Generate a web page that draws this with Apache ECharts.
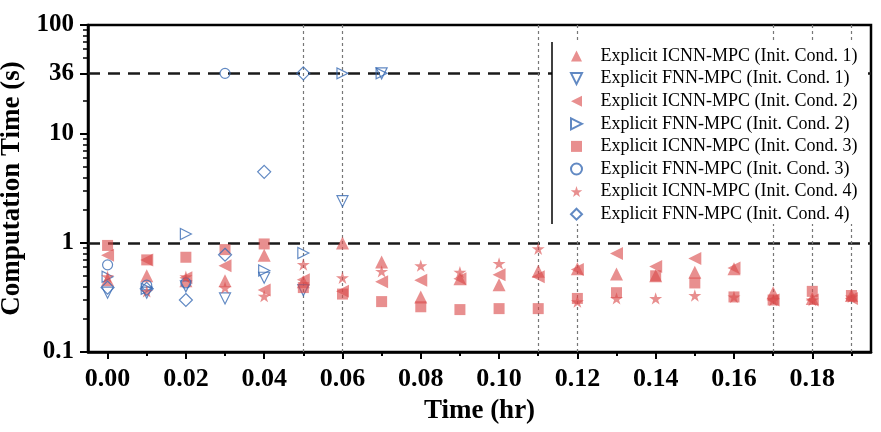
<!DOCTYPE html>
<html>
<head>
<meta charset="utf-8">
<script src="https://cdn.jsdelivr.net/npm/echarts@6.0.0/dist/echarts.min.js"></script>
<style>
html,body{margin:0;padding:0;background:#fff;}
#datas{width:881px;height:432px;}
</style>
</head>
<body>
<div id="datas"></div>
<script>
// time steps (hr)
var tAll = [0, 0.01, 0.02, 0.03, 0.04, 0.05, 0.06, 0.07, 0.08, 0.09, 0.10, 0.11, 0.12, 0.13, 0.14, 0.15, 0.16, 0.17, 0.18, 0.19];

// Explicit ICNN-MPC, computation time (s)
var icnn1 = [0.46, 0.50, 0.45, 0.45, 0.77, 0.44, 1.00, 0.67, 0.32, 0.47, 0.415, 0.55, 0.58, 0.52, 0.50, 0.54, 0.58, 0.35, 0.31, 0.33];
var icnn2 = [0.77, 0.70, 0.48, 0.62, 0.37, 0.46, 0.36, 0.44, 0.455, 0.47, 0.51, 0.49, 0.57, 0.80, 0.61, 0.72, 0.59, 0.30, 0.30, 0.31];
var icnn3 = [0.95, 0.70, 0.74, 0.87, 0.98, 0.39, 0.34, 0.29, 0.26, 0.245, 0.25, 0.25, 0.31, 0.35, 0.50, 0.43, 0.32, 0.30, 0.36, 0.33];
var icnn4 = [0.49, 0.36, 0.49, 0.39, 0.325, 0.635, 0.48, 0.55, 0.62, 0.54, 0.65, 0.885, 0.29, 0.31, 0.31, 0.33, 0.32, 0.30, 0.30, 0.32];

// Explicit FNN-MPC (stops after hitting the 36 s limit)
var fnn1T = [0, 0.01, 0.02, 0.03, 0.04, 0.05, 0.06, 0.07];
var fnn1 = [0.35, 0.35, 0.40, 0.31, 0.48, 0.37, 2.42, 36];
var fnn2T = [0, 0.01, 0.02, 0.04, 0.05, 0.06, 0.07];
var fnn2 = [0.49, 0.38, 1.21, 0.56, 0.81, 36, 36];
var fnn3T = [0, 0.01, 0.02, 0.03];
var fnn3 = [0.63, 0.41, 0.43, 36];
var fnn4T = [0, 0.01, 0.02, 0.03, 0.04, 0.05];
var fnn4 = [0.39, 0.38, 0.30, 0.78, 4.5, 36];

var names = ['Explicit ICNN-MPC (Init. Cond. 1)', 'Explicit FNN-MPC (Init. Cond. 1)',
	'Explicit ICNN-MPC (Init. Cond. 2)', 'Explicit FNN-MPC (Init. Cond. 2)',
	'Explicit ICNN-MPC (Init. Cond. 3)', 'Explicit FNN-MPC (Init. Cond. 3)',
	'Explicit ICNN-MPC (Init. Cond. 4)', 'Explicit FNN-MPC (Init. Cond. 4)'];

// axis ticks
var xMajor = [0, 0.02, 0.04, 0.06, 0.08, 0.10, 0.12, 0.14, 0.16, 0.18];
var xMinor = [0.01, 0.03, 0.05, 0.07, 0.09, 0.11, 0.13, 0.15, 0.17, 0.19];
var yMajor = [0.1, 1, 10, 36, 100];
var yMinor = [0.2, 0.3, 0.4, 0.5, 0.6, 0.7, 0.8, 0.9, 2, 3, 4, 5, 6, 7, 8, 9, 20, 50, 60, 70, 80, 90];
var refY = [36, 1];
var refX = [0.05, 0.06, 0.11, 0.12, 0.17, 0.18, 0.19];

var FONT = 'Liberation Serif';
var RED = 'rgba(218,76,76,0.78)';
var BLUE = '#3a6cb4';

// all marker shapes as paths so the legend keeps their aspect
var STAR = 'path://M50,0 L61,35 L98,35 L68,57 L79,91 L50,70 L21,91 L32,57 L2,35 L39,35 Z';
var TRI_U = 'path://M50,0 L100,100 L0,100 Z';
var TRI_L = 'path://M0,50 L100,0 L100,100 Z';
var TRI_R = 'path://M100,50 L0,0 L0,100 Z';
var TRI_D = 'path://M0,0 L100,0 L50,100 Z';
var SQUARE = 'path://M0,0 L100,0 L100,100 L0,100 Z';
var DIAMOND = 'path://M50,0 L100,50 L50,100 L0,50 Z';

function pairs(xs, ys) {
	var out = [];
	for (var i = 0; i < xs.length; i++) {
		out.push([xs[i], ys[i]]);
	}
	return out;
}

function filled(name, xs, ys, symbol, size) {
	return {
		name: name, type: 'scatter', symbol: symbol, symbolSize: size, symbolKeepAspect: true,
		itemStyle: { color: RED },
		data: pairs(xs, ys)
	};
}
function hollow(name, xs, ys, symbol, size) {
	return {
		name: name, type: 'scatter', symbol: symbol, symbolSize: size, symbolKeepAspect: true,
		itemStyle: { color: 'rgba(255,255,255,0)', borderColor: BLUE, borderWidth: 1.2 },
		data: pairs(xs, ys)
	};
}

var series = [
	filled(names[0], tAll, icnn1, TRI_U, 13),
	hollow(names[1], fnn1T, fnn1, TRI_D, 11),
	filled(names[2], tAll, icnn2, TRI_L, 13),
	hollow(names[3], fnn2T, fnn2, TRI_R, 11),
	filled(names[4], tAll, icnn3, SQUARE, 11),
	hollow(names[5], fnn3T, fnn3, 'circle', 10),
	filled(names[6], tAll, icnn4, STAR, 13),
	hollow(names[7], fnn4T, fnn4, DIAMOND, 13)
];

// reference lines live on an empty helper series
var lines = [];
refY.forEach(function (v) {
	lines.push({ yAxis: v, lineStyle: { type: [12, 8], color: '#1a1a1a', width: 2.5 } });
});
refX.forEach(function (v) {
	lines.push({ xAxis: v, lineStyle: { type: [3, 3], color: '#777', width: 1.2 } });
});
series.push({
	type: 'scatter', data: [], silent: true, z: 1,
	markLine: { silent: true, symbol: 'none', label: { show: false }, animation: false, z: 1, data: lines }
});

option = {
	animation: false,
	backgroundColor: '#fff',
	grid: {
		left: 88, right: 10, top: 25, bottom: 80, outerBoundsMode: 'none', containLabel: false,
		show: true, borderColor: '#000', borderWidth: 2.5, backgroundColor: 'transparent'
	},
	legend: {
		orient: 'vertical', left: 570, top: 47, padding: 0, z: 20,
		itemWidth: 38, itemHeight: 11, itemGap: 4.6,
		data: names,
		textStyle: { fontFamily: FONT, fontSize: 18, lineHeight: 18, color: '#000' }
	},
	graphic: {
		z: 10,
		elements: [{
			// legend box: white fill hides the guide lines, only its left edge is drawn
			type: 'rect', silent: true, z: 10,
			shape: { x: 552, y: 42, width: 314, height: 182 },
			style: { fill: '#fff' }
		}, {
			type: 'line', silent: true, z: 11,
			shape: { x1: 552, y1: 42, x2: 552, y2: 224 },
			style: { stroke: '#000', lineWidth: 1.5 }
		}]
	},
	xAxis: [{
		type: 'value', min: -0.005, max: 0.195,
		name: 'Time (hr)', nameLocation: 'middle', nameGap: 46,
		nameTextStyle: { fontFamily: FONT, fontWeight: 'bold', fontSize: 27, color: '#000' },
		axisLine: { show: true, onZero: false, lineStyle: { color: '#000', width: 2.5 } },
		axisTick: { show: true, inside: false, length: 7, lineStyle: { color: '#000', width: 2 }, customValues: xMajor },
		axisLabel: {
			margin: 14, fontFamily: FONT, fontWeight: 'bold', fontSize: 26, color: '#000',
			customValues: xMajor,
			formatter: function (v) { return v.toFixed(2); }
		},
		splitLine: { show: false }
	}, {
		type: 'value', min: -0.005, max: 0.195, position: 'bottom',
		axisLine: { show: false, onZero: false },
		axisTick: { show: true, inside: false, length: 4, lineStyle: { color: '#000', width: 2 }, customValues: xMinor },
		axisLabel: { show: false },
		splitLine: { show: false }
	}],
	yAxis: [{
		type: 'log', logBase: 10, min: 0.1, max: 100,
		name: 'Computation Time (s)', nameLocation: 'middle', nameGap: 58,
		nameTextStyle: { fontFamily: FONT, fontWeight: 'bold', fontSize: 27, color: '#000' },
		axisLine: { show: true, onZero: false, lineStyle: { color: '#000', width: 2.5 } },
		axisTick: { show: true, inside: false, length: 8, lineStyle: { color: '#000', width: 2 }, customValues: yMajor },
		axisLabel: {
			margin: 14, fontFamily: FONT, fontWeight: 'bold', fontSize: 25, color: '#000',
			customValues: yMajor,
			formatter: function (v) { return String(v); }
		},
		splitLine: { show: false }
	}, {
		type: 'log', logBase: 10, min: 0.1, max: 100, position: 'left',
		axisLine: { show: false, onZero: false },
		axisTick: { show: true, inside: false, length: 5, lineStyle: { color: '#000', width: 1.5 }, customValues: yMinor },
		axisLabel: { show: false },
		splitLine: { show: false }
	}],
	series: series
};

var myChart = echarts.init(document.getElementById('datas'));
myChart.setOption(option);
</script>
</body>
</html>
